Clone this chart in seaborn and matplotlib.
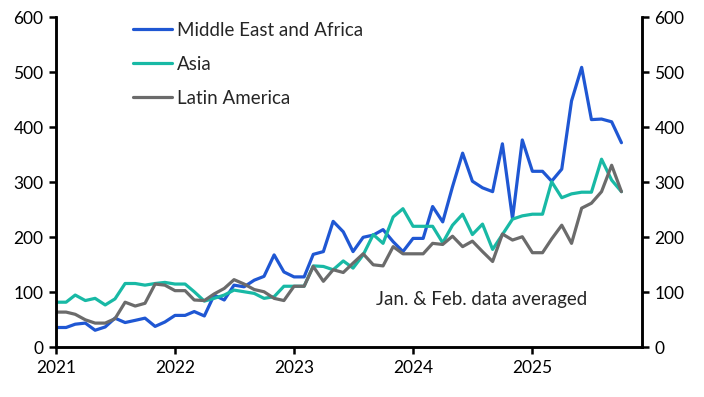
import pandas as pd
import seaborn as sns
import matplotlib.pyplot as plt
import matplotlib.dates as mdates

# monthly values, Jan 2021 - Oct 2025 (Jan & Feb averaged)
months = pd.date_range('2021-01-01', '2025-10-01', freq='MS')
mea = [36, 36, 42, 44, 31, 37, 53, 45, 49, 53, 38, 46,
       58, 58, 65, 57, 95, 86, 113, 110, 122, 129, 168, 137,
       128, 128, 169, 174, 229, 210, 174, 200, 204, 214, 192, 174,
       198, 198, 256, 228, 292, 353, 302, 290, 283, 370, 234, 377,
       320, 320, 302, 324, 448, 509, 414, 415, 410, 372]
asia = [82, 82, 95, 85, 89, 77, 88, 116, 116, 113, 116, 118,
        115, 115, 101, 84, 89, 95, 104, 101, 98, 89, 92, 111,
        111, 111, 148, 147, 141, 157, 144, 168, 205, 189, 237, 252,
        220, 220, 220, 190, 222, 242, 205, 224, 178, 205, 233, 239,
        242, 242, 301, 272, 279, 282, 282, 342, 304, 283]
latam = [64, 64, 60, 50, 44, 44, 52, 82, 75, 80, 115, 113,
         103, 103, 86, 85, 97, 107, 123, 115, 105, 101, 89, 85,
         111, 111, 147, 120, 141, 136, 153, 170, 150, 148, 183, 170,
         170, 170, 189, 187, 202, 183, 193, 174, 156, 206, 195, 201,
         172, 172, 197, 222, 189, 253, 262, 283, 331, 283]

names = ['Middle East and Africa', 'Asia', 'Latin America']
colors = ['#1f57d3', '#18b9a5', '#6b6b6b']
yticks = [0, 100, 200, 300, 400, 500, 600]

df = pd.DataFrame({'month': months, names[0]: mea, names[1]: asia, names[2]: latam})
df = df.melt(id_vars='month', var_name='region', value_name='value')

sns.set_style('white')
plt.rcParams['font.family'] = ['Lato', 'DejaVu Sans']

fig = plt.figure(figsize=(7.04, 3.97), dpi=100)
ax = fig.add_axes([0.0795, 0.1252, 0.8324, 0.8312])
sns.lineplot(data=df, x='month', y='value', hue='region', hue_order=names,
             palette=dict(zip(names, colors)), linewidth=2.3, ax=ax)

ax.set_xlim(pd.Timestamp('2021-01-01'), pd.Timestamp('2025-12-03'))
ax.set_ylim(0, 600)
ax.set_yticks(yticks)
ax.xaxis.set_major_locator(mdates.YearLocator())
ax.xaxis.set_major_formatter(mdates.DateFormatter('%Y'))
ax.set_xlabel('')
ax.set_ylabel('')

ax2 = ax.twinx()
ax2.set_ylim(0, 600)
ax2.set_yticks(yticks)

for a in (ax, ax2):
    a.spines['top'].set_visible(False)
    for s in ('left', 'right', 'bottom'):
        a.spines[s].set_color('black')
        a.spines[s].set_linewidth(1.8)
    a.tick_params(axis='both', direction='out', length=5, width=1.8,
                  color='black', labelsize=12.5, labelcolor='black', pad=4)
ax.tick_params(left=True, bottom=True)
ax2.tick_params(right=True)

ax.legend(frameon=False, loc='upper left', bbox_to_anchor=(0.131, 0.986),
          borderaxespad=0, borderpad=0,
          fontsize=13.5, handlelength=2.1, handletextpad=0.27, labelspacing=0.91)

ax.text(0.546, 0.146, 'Jan. & Feb. data averaged', transform=ax.transAxes,
        fontsize=13.5, va='center', ha='left')

plt.savefig('out.png', dpi=100)
